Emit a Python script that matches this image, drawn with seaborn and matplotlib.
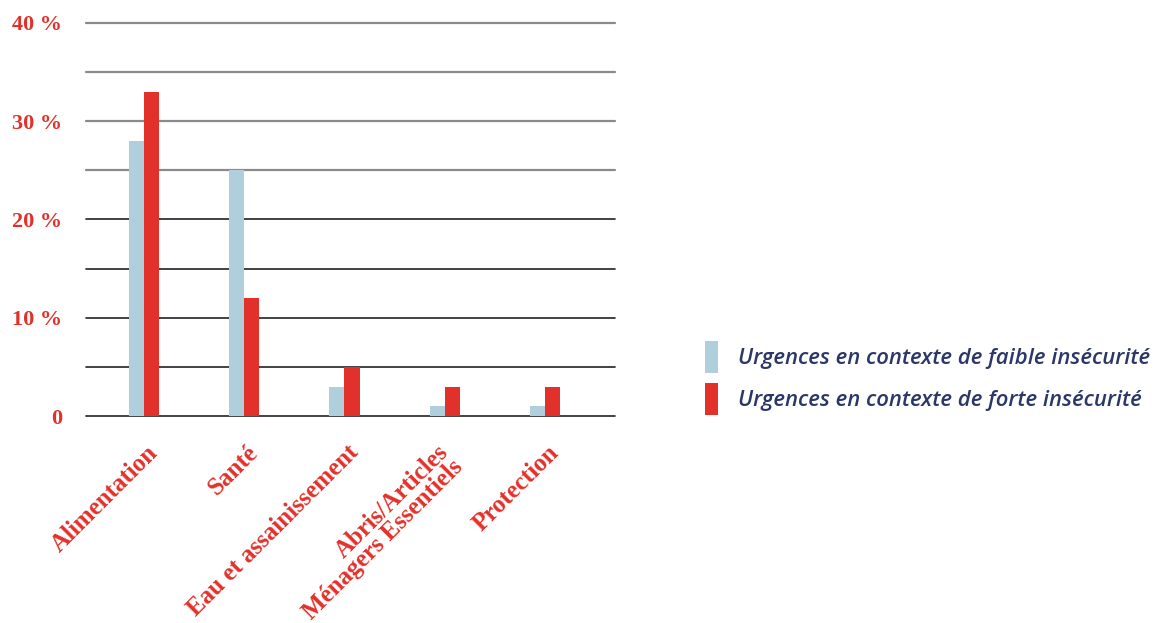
import matplotlib
matplotlib.use("Agg")
import matplotlib.pyplot as plt
import matplotlib.transforms as mtransforms
import seaborn as sns
import pandas as pd
from matplotlib.patches import Patch

categories = ["Alimentation", "Santé", "Eau et assainissement",
              "Abris/Articles\nMénagers Essentiels", "Protection"]
series_names = ["Urgences en contexte de faible insécurité",
                "Urgences en contexte de forte insécurité"]
faible = [28, 25, 3, 1, 1]
forte = [33, 12, 5, 3, 3]
yticks = [0, 10, 20, 30, 40]
ytick_labels = ["0", "10 %", "20 %", "30 %", "40 %"]
colors = ["#aecfdb", "#e2312a"]

df = pd.DataFrame({
    "cat": categories * 2,
    "serie": [series_names[0]] * len(categories) + [series_names[1]] * len(categories),
    "val": faible + forte,
})

sns.set_theme(style="white")
fig = plt.figure(figsize=(11.7, 6.23), dpi=100)
ax = fig.add_axes([86/1170, 1-416/623, (615-86)/1170, (416-23)/623])

sns.barplot(data=df, x="cat", y="val", hue="serie", palette=colors,
            width=0.3, gap=0, dodge=True, ax=ax, saturation=1, legend=False,
            linewidth=0, zorder=3)

ax.set_ylim(0, 40)
ax.set_xlim(-0.58, 4.7)
ax.set_yticks(yticks)
ax.set_yticklabels(ytick_labels)
ax.set_xlabel("")
ax.set_ylabel("")
for s in ax.spines.values():
    s.set_visible(False)

# horizontal grid lines
for v in [0, 5, 10, 15, 20, 25, 30, 35, 40]:
    col = "#8a8a8a" if v >= 25 else "#222222"
    lw = 1.6 if v >= 25 else 1.2
    ax.axhline(v, color=col, lw=lw, zorder=1, clip_on=False)

red = "#e2312a"
ax.tick_params(axis="y", which="both", length=0, pad=17)
ax.tick_params(axis="x", length=0, pad=18)
for lab in ax.get_yticklabels():
    lab.set_fontfamily("Liberation Serif")
    lab.set_fontweight("bold")
    lab.set_fontsize(16)
    lab.set_color(red)
ax.set_xticks(range(len(categories)))
ax.set_xticklabels(categories, rotation=45, ha="right", va="top",
                   rotation_mode="anchor", multialignment="right",
                   fontfamily="Liberation Serif", fontweight="bold",
                   fontsize=18, color=red, linespacing=0.85)
for lab in ax.get_xticklabels():
    dx = -8 if "\n" in lab.get_text() else 2
    shift = mtransforms.ScaledTranslation(dx/100, 0, fig.dpi_scale_trans)
    lab.set_transform(lab.get_transform() + shift)

handles = [Patch(facecolor=c, edgecolor="none") for c in colors]
leg = fig.legend(handles, series_names, loc="upper left",
                 bbox_to_anchor=(705/1170, 1-341/623), frameon=False,
                 borderpad=0, borderaxespad=0, handlelength=0.6,
                 handleheight=1.85, handletextpad=0.9, labelspacing=0.45,
                 prop={"family": "Open Sans", "style": "italic",
                       "weight": "semibold", "size": 15.9})
for t in leg.get_texts():
    t.set_color("#2b3768")

fig.savefig("out.png", dpi=100)
